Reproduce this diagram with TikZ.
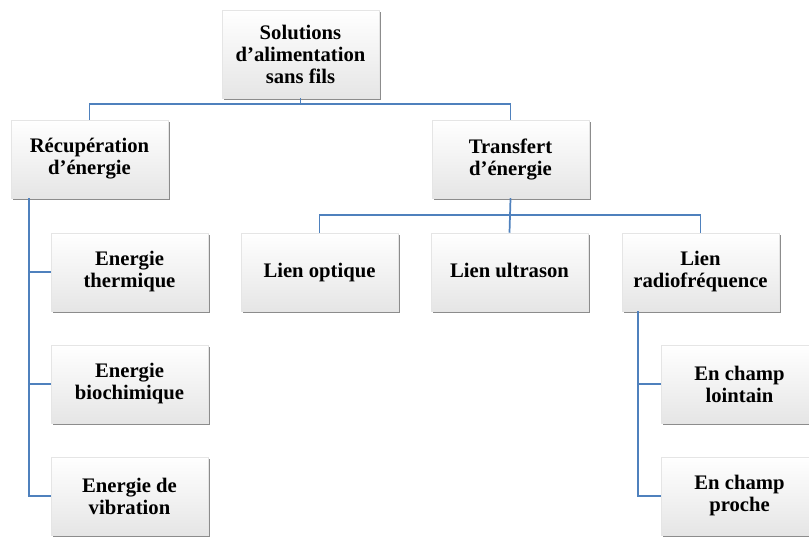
\documentclass[tikz,border=0pt]{standalone}
\usepackage{fontspec}
\setmainfont{Liberation Serif}
\usetikzlibrary{shadows}
\definecolor{linkblue}{RGB}{79,129,189}

\begin{document}
\begin{tikzpicture}[x=0.75pt,y=-0.75pt,
                  box/.style={draw=gray!20,top color=white,bottom color=gray!20,
                    minimum width=117.75pt,minimum height=58.5pt,align=center,
                    inner sep=2pt,font=\bfseries\fontsize{15.5}{16.5}\selectfont,
                    drop shadow={shadow xshift=1.2pt,shadow yshift=-1.8pt,fill=black,opacity=0.45}},
                  oneline/.style={box,text height=11pt,text depth=3.5pt},
                  link/.style={linkblue,line width=1.3pt}]
                  \useasboundingbox (0,0) rectangle (809,536);
                  % boxes
                  \node [box,minimum height=66pt] (root) at (300.5,54) {Solutions\\d'alimentation\\sans fils};
                  \node [box] (recup) at (89.5,159) {Récupération\\d'énergie};
                  \node [box] (transf) at (510.5,159) {Transfert\\d'énergie};
                  \node [box] (therm) at (129.5,272) {Energie\\thermique};
                  \node [box] (bioch) at (129.5,384) {Energie\\biochimique};
                  \node [box] (vibr) at (129.5,496) {Energie de\\vibration};
                  \node [oneline] (optiq) at (319.5,272) {Lien optique};
                  \node [oneline] (ultra) at (509.5,272) {Lien ultrason};
                  \node [box] (radio) at (700.5,272) {Lien\\radiofréquence};
                  \node [box] (loint) at (739.5,384) {En champ\\lointain};
                  \node [box] (proch) at (739.5,496) {En champ\\proche};
                  % links
                  \draw [link] (root.south) -- ++(0,6) -| (recup.north);
                  \draw [link] (root.south) -- ++(0,6) -| (transf.north);
                  \draw [link] (transf.south) -- ++(0,17) -| (optiq.north);
                  \draw [link] (transf.south) -- (ultra.north);
                  \draw [link] (transf.south) -- ++(0,17) -| (radio.north);
                  \draw [link] ([xshift=13.5pt]recup.south west) |- (therm.west);
                  \draw [link] ([xshift=13.5pt]recup.south west) |- (bioch.west);
                  \draw [link] ([xshift=13.5pt]recup.south west) |- (vibr.west);
                  \draw [link] ([xshift=12pt]radio.south west) |- (loint.west);
                  \draw [link] ([xshift=12pt]radio.south west) |- (proch.west);
              \end{tikzpicture}
\end{document}
